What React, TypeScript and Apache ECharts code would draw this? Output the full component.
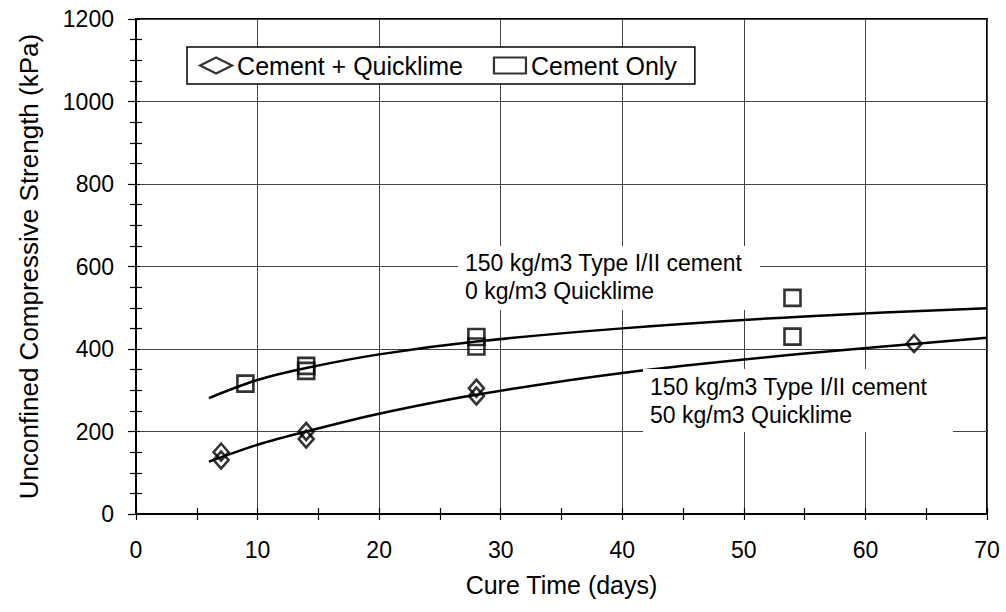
import React, { useEffect, useRef } from "react";
import * as echarts from "echarts";

const cureQL = [7, 7, 14, 14, 28, 28, 64];
const ucsQL = [150, 131, 200, 182, 305, 286, 413];
const cureCO = [9, 14, 14, 28, 28, 54, 54];
const ucsCO = [316, 359, 347, 429, 406, 524, 430];

// Fitted trend lines
const fitX = [6, 10, 14, 20, 28, 40, 55, 70];
const fitCO = [281, 325, 354, 387, 418, 450, 479, 499];
const fitQL = [127, 168, 200, 243, 289, 342, 389, 427];

const xTicks = [0, 10, 20, 30, 40, 50, 60, 70];
const yTicks = [0, 200, 400, 600, 800, 1000, 1200];

const seriesNames = ["Cement + Quicklime", "Cement Only"];
const noteUpper = ["150 kg/m3 Type I/II cement", "0 kg/m3 Quicklime"];
const noteLower = ["150 kg/m3 Type I/II cement", "50 kg/m3 Quicklime"];

const FONT = "'Liberation Sans', Arial, Helvetica, sans-serif";

export default function App() {
  const ref = useRef<HTMLDivElement>(null);
  useEffect(() => {
    if (!ref.current) return;
    const chart = echarts.init(ref.current, undefined, { renderer: "svg" });
    const xMin = xTicks[0];
    const xMax = xTicks[xTicks.length - 1];
    const xInt = xTicks[1] - xTicks[0];
    const yMin = yTicks[0];
    const yMax = yTicks[yTicks.length - 1];
    const yInt = yTicks[1] - yTicks[0];
    const pair = (xs: number[], ys: number[]) => xs.map((x, i) => [x, ys[i]]);
    const hollow = { color: "rgba(0,0,0,0)", borderColor: "#000", borderWidth: 2.6 };
    const gridLine = { show: true, lineStyle: { color: "#444", width: 1 } };
    const plain = (v: number) => String(v);

    const baseX = {
      type: "value" as const,
      min: xMin,
      max: xMax,
      interval: xInt,
      position: "bottom" as const,
    };
    const baseY = {
      type: "value" as const,
      min: yMin,
      max: yMax,
      interval: yInt,
      position: "left" as const,
    };

    chart.setOption({
      animation: false,
      backgroundColor: "#fff",
      textStyle: { fontFamily: FONT, color: "#000" },
      grid: {
        left: 136,
        right: 19,
        top: 19,
        bottom: 98,
        show: true,
        borderColor: "#000",
        borderWidth: 2,
        backgroundColor: "rgba(0,0,0,0)",
        outerBoundsMode: "none",
      },
      legend: {
        data: seriesNames,
        left: 187,
        top: 47,
        orient: "horizontal",
        padding: [5, 18, 5, 12],
        itemGap: 30,
        itemWidth: 32,
        itemHeight: 16,
        backgroundColor: "#fff",
        borderColor: "#000",
        borderWidth: 1.5,
        borderRadius: 0,
        itemStyle: { color: "rgba(0,0,0,0)", borderColor: "#000", borderWidth: 2.2 },
        textStyle: { fontFamily: FONT, fontSize: 25, color: "#000", lineHeight: 27 },
      },
      xAxis: [
        {
          ...baseX,
          name: "Cure Time (days)",
          nameLocation: "middle",
          nameGap: 58,
          nameTextStyle: { fontFamily: FONT, fontSize: 25, color: "#000" },
          axisLine: { show: true, onZero: false, lineStyle: { color: "#000", width: 2 } },
          axisTick: { show: true, length: 6, lineStyle: { color: "#000", width: 1.2 } },
          minorTick: { show: true, splitNumber: 2, length: 6, lineStyle: { color: "#000", width: 1.2 } },
          axisLabel: { fontFamily: FONT, fontSize: 23, color: "#000", margin: 24, formatter: plain },
          splitLine: gridLine,
        },
        {
          ...baseX,
          axisLine: { show: false },
          axisTick: { show: true, inside: true, length: 6, lineStyle: { color: "#000", width: 1.2 } },
          minorTick: { show: true, splitNumber: 2, length: 6, lineStyle: { color: "#000", width: 1.2 } },
          axisLabel: { show: false },
          splitLine: { show: false },
        },
      ],
      yAxis: [
        {
          ...baseY,
          name: "Unconfined Compressive Strength (kPa)",
          nameLocation: "middle",
          nameGap: 94,
          nameTextStyle: { fontFamily: FONT, fontSize: 26, color: "#000" },
          axisLine: { show: true, onZero: false, lineStyle: { color: "#000", width: 2 } },
          axisTick: { show: true, length: 8, lineStyle: { color: "#000", width: 1.2 } },
          minorTick: { show: true, splitNumber: 4, length: 6, lineStyle: { color: "#000", width: 1.2 } },
          axisLabel: { fontFamily: FONT, fontSize: 23, color: "#000", margin: 22, formatter: plain },
          splitLine: gridLine,
        },
        {
          ...baseY,
          axisLine: { show: false },
          axisTick: { show: true, inside: true, length: 4, lineStyle: { color: "#000", width: 1.2 } },
          minorTick: { show: true, splitNumber: 4, length: 6, lineStyle: { color: "#000", width: 1.2 } },
          axisLabel: { show: false },
          splitLine: { show: false },
        },
      ],
      graphic: [
        {
          type: "rect",
          z: 5,
          shape: { x: 458, y: 246, width: 302, height: 64 },
          style: { fill: "#fff" },
        },
        {
          type: "text",
          z: 6,
          x: 465,
          y: 249,
          style: {
            text: noteUpper.join("\n"),
            font: `23px ${FONT}`,
            fill: "#000",
            lineHeight: 28,
            verticalAlign: "top",
            align: "left",
          },
        },
        {
          type: "rect",
          z: 5,
          shape: { x: 643, y: 369, width: 310, height: 63 },
          style: { fill: "#fff" },
        },
        {
          type: "text",
          z: 6,
          x: 650,
          y: 373,
          style: {
            text: noteLower.join("\n"),
            font: `23px ${FONT}`,
            fill: "#000",
            lineHeight: 28,
            verticalAlign: "top",
            align: "left",
          },
        },
      ],
      series: [
        {
          name: "fitCO",
          type: "line",
          data: pair(fitX, fitCO),
          smooth: 0.3,
          showSymbol: false,
          silent: true,
          lineStyle: { color: "#000", width: 2.5 },
          z: 3,
        },
        {
          name: "fitQL",
          type: "line",
          data: pair(fitX, fitQL),
          smooth: 0.3,
          showSymbol: false,
          silent: true,
          lineStyle: { color: "#000", width: 2.5 },
          z: 3,
        },
        {
          name: seriesNames[0],
          type: "scatter",
          symbol: "diamond",
          symbolSize: [15, 17],
          data: pair(cureQL, ucsQL),
          itemStyle: hollow,
          z: 4,
        },
        {
          name: seriesNames[1],
          type: "scatter",
          symbol: "rect",
          symbolSize: 16,
          data: pair(cureCO, ucsCO),
          itemStyle: hollow,
          z: 4,
        },
      ],
    });
    return () => chart.dispose();
  }, []);
  return (
    <div
      ref={ref}
      style={{ position: "fixed", left: 0, top: 0, width: 1006, height: 612, background: "#fff" }}
    />
  );
}
